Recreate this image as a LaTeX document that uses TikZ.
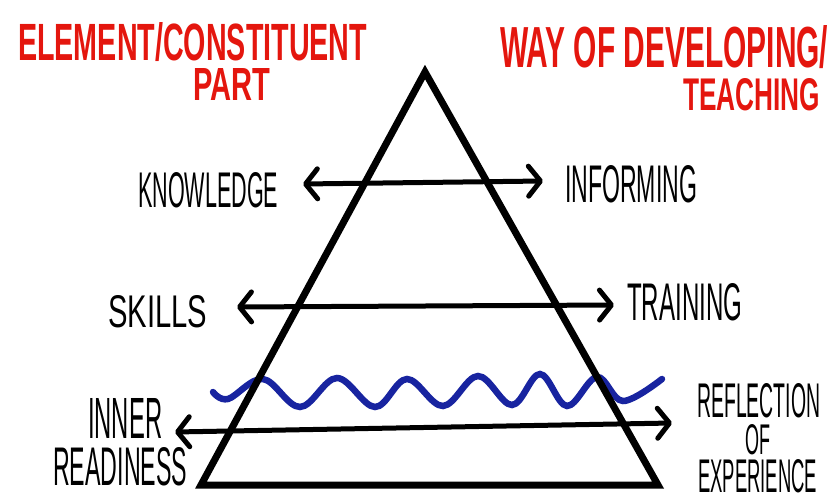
\documentclass[tikz,border=0pt]{standalone}
\usepackage{fontspec}
\setmainfont{Liberation Sans}
\usetikzlibrary{arrows.meta}

\definecolor{penred}{RGB}{228,22,14}
\definecolor{penblue}{RGB}{24,36,160}

% squeeze a word into a w x h box (pt)
\newcommand{\fitword}[3]{\resizebox{#1pt}{#2pt}{#3}}

\begin{document}
\begin{tikzpicture}[x=1pt, y=-1pt,
  heading/.style = {text=penred, inner sep=0, anchor=north west, font=\bfseries},
  word/.style = {inner sep=0, anchor=north west},
  side/.style = {line width=7pt, line join=miter},
  arr/.style = {line width=5pt, line cap=round,
    {Straight Barb[length=12pt,width=30pt,round]}-{Straight Barb[length=12pt,width=30pt,round]}},
  wavy/.style = {penblue, line width=6.5pt, line cap=round}]
\useasboundingbox (0,0) rectangle (840,494);

% headings
\node[heading] (elem) at (18,22) {\fitword{349}{38}{ELEMENT/CONSTITUENT}};
\node[heading] (part) at (193,68) {\fitword{77}{32}{PART}};
\node[heading] (way) at (500,25) {\fitword{328}{42}{WAY OF DEVELOPING/}};
\node[heading] (teaching) at (683,78) {\fitword{137}{32}{TEACHING}};

% levels
\node[word] (knowledge) at (138,172) {\fitword{140}{35}{KNOWLEDGE}};
\node[word] (informing) at (565,165) {\fitword{132}{37}{INFORMING}};
\node[word] (skills) at (108,295) {\fitword{99}{32}{SKILLS}};
\node[word] (training) at (627,283) {\fitword{115}{37}{TRAINING}};
\node[word] (inner) at (88,398) {\fitword{74}{40}{INNER}};
\node[word] (readiness) at (53,447) {\fitword{134}{38}{READINESS}};
\node[word] (reflection) at (697,383) {\fitword{123}{34}{REFLECTION}};
\node[word] (of) at (745,424) {\fitword{25}{30}{OF}};
\node[word] (experience) at (698,459) {\fitword{119}{33}{EXPERIENCE}};

% pyramid
\coordinate (apex) at (425,72);
\coordinate (baseL) at (201,485);
\coordinate (baseR) at (658,485);

% arrow ends
\coordinate (kl) at (303,184);
\coordinate (kr) at (543,181);
\coordinate (sl) at (237,307);
\coordinate (sr) at (614,305);
\coordinate (il) at (175,432);
\coordinate (ir) at (672,423);

\draw[wavy] plot[smooth, tension=0.6] coordinates {(213,392) (228,399) (263,379)
  (300,407) (337,378) (375,407) (407,379) (443,406) (478,376) (512,405)
  (540,374) (567,406) (597,377) (623,401) (662,379)};

\draw[side] (apex) -- (baseR) -- (baseL) -- cycle;

\draw[arr] (kl) -- (kr);
\draw[arr] (sl) -- (sr);
\draw[arr] (il) -- (ir);
\end{tikzpicture}
\end{document}
